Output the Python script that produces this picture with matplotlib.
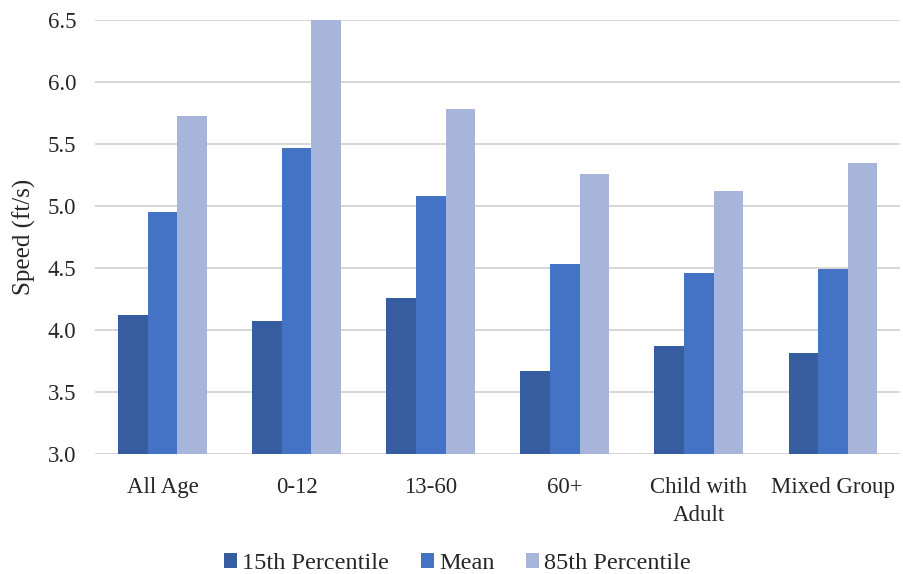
import matplotlib
matplotlib.use("Agg")
import matplotlib.pyplot as plt
import numpy as np

categories = ["All Age", "0-12", "13-60", "60+", "Child with\nAdult", "Mixed Group"]
p15 = [4.12, 4.07, 4.26, 3.67, 3.87, 3.81]
mean = [4.95, 5.47, 5.08, 4.53, 4.46, 4.49]
p85 = [5.73, 6.50, 5.78, 5.26, 5.12, 5.35]
series_names = ["15th Percentile", "Mean", "85th Percentile"]
colors = ["#355DA0", "#4472C4", "#A8B5DA"]

plt.rcParams['font.family'] = ['Liberation Serif', 'DejaVu Serif']

fig = plt.figure(figsize=(9.04, 5.74), dpi=100)
ax = fig.add_axes([0.1056, 0.2096, 0.8900, 0.7550])

x = np.arange(len(categories))
w = 0.221
for i, (vals, name, c) in enumerate(zip([p15, mean, p85], series_names, colors)):
    ax.bar(x + (i - 1) * w, np.array(vals) - 3.0, w, bottom=3.0, color=c, label=name,
           zorder=3, edgecolor='none')

ax.set_ylim(3.0, 6.5)
ax.set_xlim(-0.5, len(categories) - 0.5)
yt = np.arange(3.0, 6.51, 0.5)
ax.set_yticks(yt)
ax.set_yticklabels([f"{v:.1f}" for v in yt], fontsize=16.5)
ax.set_xticks(x)
ax.set_xticklabels(categories, fontsize=16.5, linespacing=1.4)
ax.tick_params(axis='both', length=0, colors='#262626')
ax.tick_params(axis='y', pad=14)
ax.tick_params(axis='x', pad=17)
ax.yaxis.grid(True, color='#D0D0D0', linewidth=1.2, zorder=0)
ax.set_axisbelow(True)
for s in ax.spines.values():
    s.set_visible(False)
ax.set_ylabel("Speed (ft/s)", fontsize=18, color='#262626', labelpad=8)

leg = fig.legend(loc='lower center', bbox_to_anchor=(0.506, 0.0), ncol=3, frameon=False,
                 fontsize=17.5, handlelength=0.55, handleheight=0.55, handletextpad=0.2,
                 columnspacing=1.3, borderpad=0.0, borderaxespad=0.0)
for t in leg.get_texts():
    t.set_color('#262626')

fig.savefig("out.png", dpi=100)
